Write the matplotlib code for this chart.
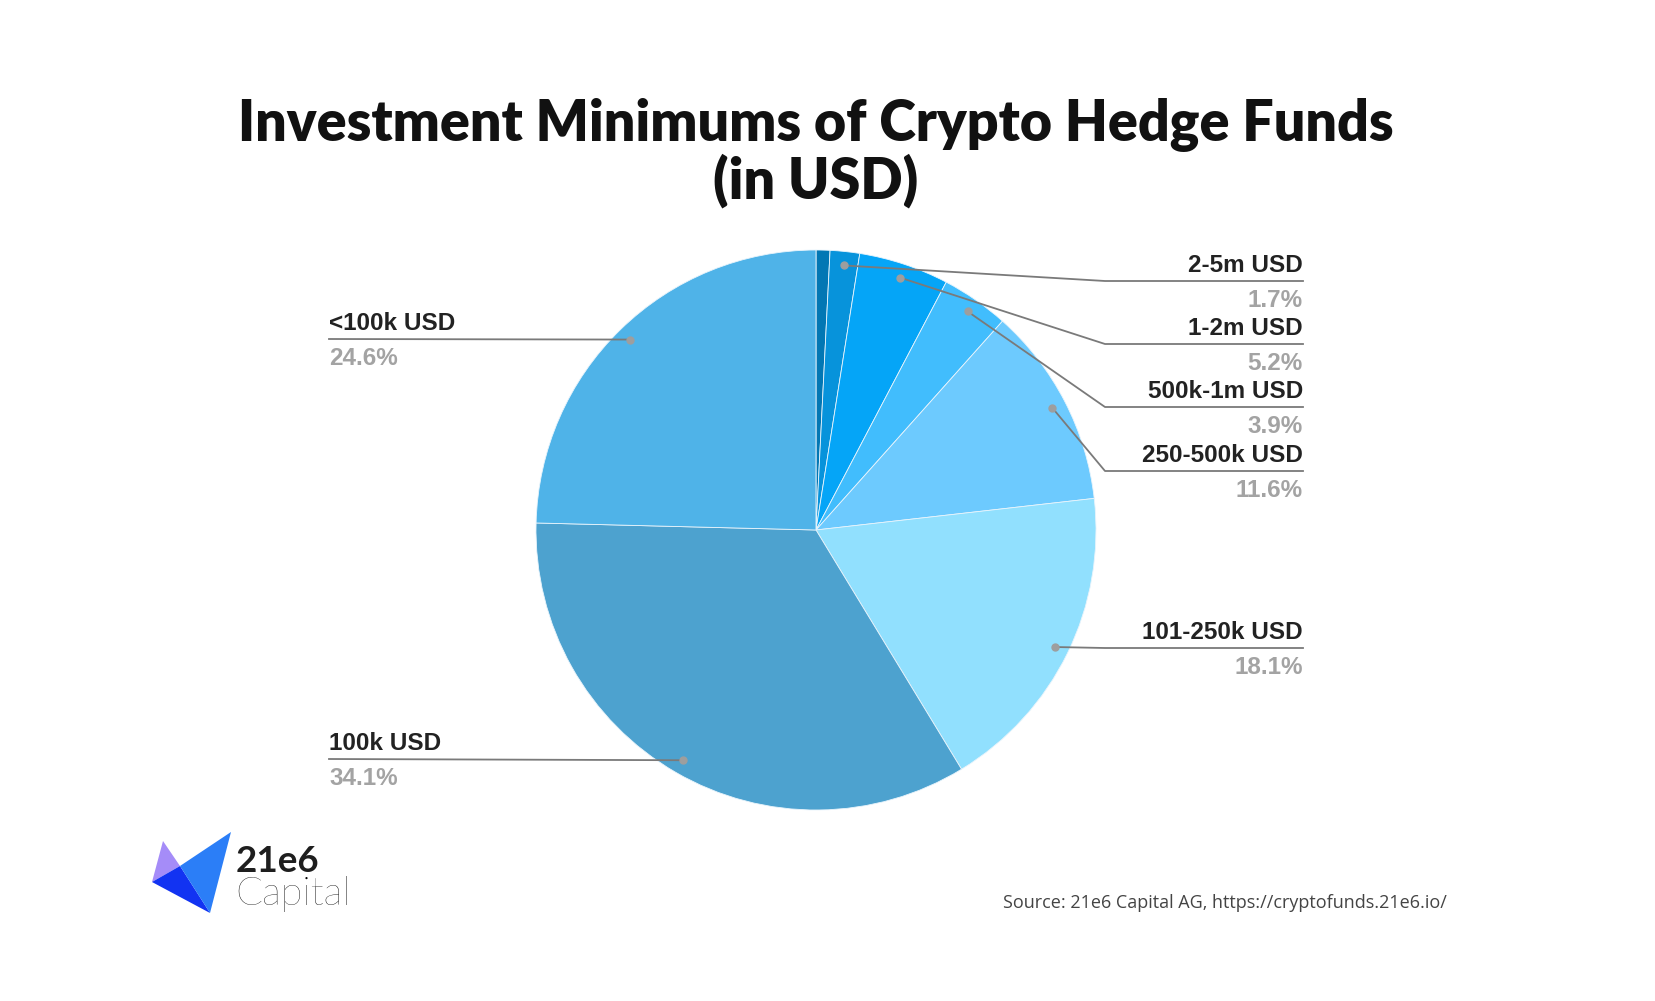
import numpy as np
import matplotlib.pyplot as plt
from matplotlib.patches import Polygon

# data, clockwise from 12 o'clock
labels = ['>5m USD', '2-5m USD', '1-2m USD', '500k-1m USD', '250-500k USD',
          '101-250k USD', '100k USD', '<100k USD']
shares = [0.8, 1.7, 5.2, 3.9, 11.6, 18.1, 34.1, 24.6]
colors = ['#0277b4', '#0793db', '#05a5f7', '#41bdfd', '#6dcafe',
          '#91e0fe', '#4da2cf', '#4fb3e8']

# label placement (side, y of the leader line in px from top); None = no label
label_pos = [None, ('r', 281), ('r', 344), ('r', 407), ('r', 471),
             ('r', 648), ('l', 759), ('l', 339)]

W, H = 1655, 1001
def Y(y):
    return H - y

fig = plt.figure(figsize=(W / 100, H / 100), dpi=100)
ax = fig.add_axes([0, 0, 1, 1])

cx, cy, R = 816, 530, 280
wedges, _ = ax.pie(shares, colors=colors, startangle=90, counterclock=False,
                   center=(cx, Y(cy)), radius=R,
                   wedgeprops=dict(linewidth=0.6, edgecolor='#e8f4fc'))
ax.set_xlim(0, W)
ax.set_ylim(0, H)
ax.set_aspect('equal')
ax.axis('off')

xr_elbow, xr_end, xl_end = 1105, 1303, 329
for w, lab, val, pos in zip(wedges, labels, shares, label_pos):
    if pos is None:
        continue
    side, ly = pos
    mid = np.deg2rad((w.theta1 + w.theta2) / 2)
    dx = cx + 0.95 * R * np.cos(mid)
    dy = Y(cy) + 0.95 * R * np.sin(mid)
    if side == 'r':
        ax.plot([dx, xr_elbow, xr_end], [dy, Y(ly), Y(ly)], color='#7a7a7a', lw=1.3, zorder=3)
        tx, ha = xr_end, 'right'
    else:
        ax.plot([dx, xl_end], [dy, Y(ly)], color='#7a7a7a', lw=1.3, zorder=3)
        tx, ha = xl_end, 'left'
    ax.plot(dx, dy, 'o', color='#9e9e9e', ms=5, zorder=4)
    ax.text(tx, Y(ly) + 4, lab, ha=ha, va='bottom', fontsize=17.5, fontweight='bold',
            family='Liberation Sans', color='#222222')
    ax.text(tx, Y(ly) - 8, '%.1f%%' % val, ha=ha, va='top', fontsize=17.5, fontweight='bold',
            family='Liberation Sans', color='#a3a3a3')

# title
ax.text(cx, Y(125), 'Investment Minimums of Crypto Hedge Funds', ha='center', va='center',
        fontsize=40, fontweight='heavy', family='Lato', color='#111111')
ax.text(cx, Y(181), '(in USD)', ha='center', va='center',
        fontsize=40, fontweight='heavy', family='Lato', color='#111111')

# source
ax.text(1447, Y(903), 'Source: 21e6 Capital AG, https://cryptofunds.21e6.io/', ha='right', va='center',
        fontsize=13, family='Open Sans', color='#444444')

# logo
ax.add_patch(Polygon([(163, Y(841)), (152, Y(882)), (180, Y(866))], closed=True, color='#a58cf8', lw=0))
ax.add_patch(Polygon([(152, Y(882)), (180, Y(866)), (210, Y(913))], closed=True, color='#1233f2', lw=0))
ax.add_patch(Polygon([(180, Y(866)), (231, Y(832)), (210, Y(913))], closed=True, color='#2b7ef7', lw=0))
ax.text(236, Y(872), '21e6', ha='left', va='baseline', fontsize=26.5, fontweight='bold',
        family='Lato', color='#1e1e1e')
ax.text(235, Y(905), 'Capital', ha='left', va='baseline', fontsize=28.5, fontweight='light',
        family='Lato', color='#000000')

fig.savefig('out.png', dpi=100, facecolor='white')
